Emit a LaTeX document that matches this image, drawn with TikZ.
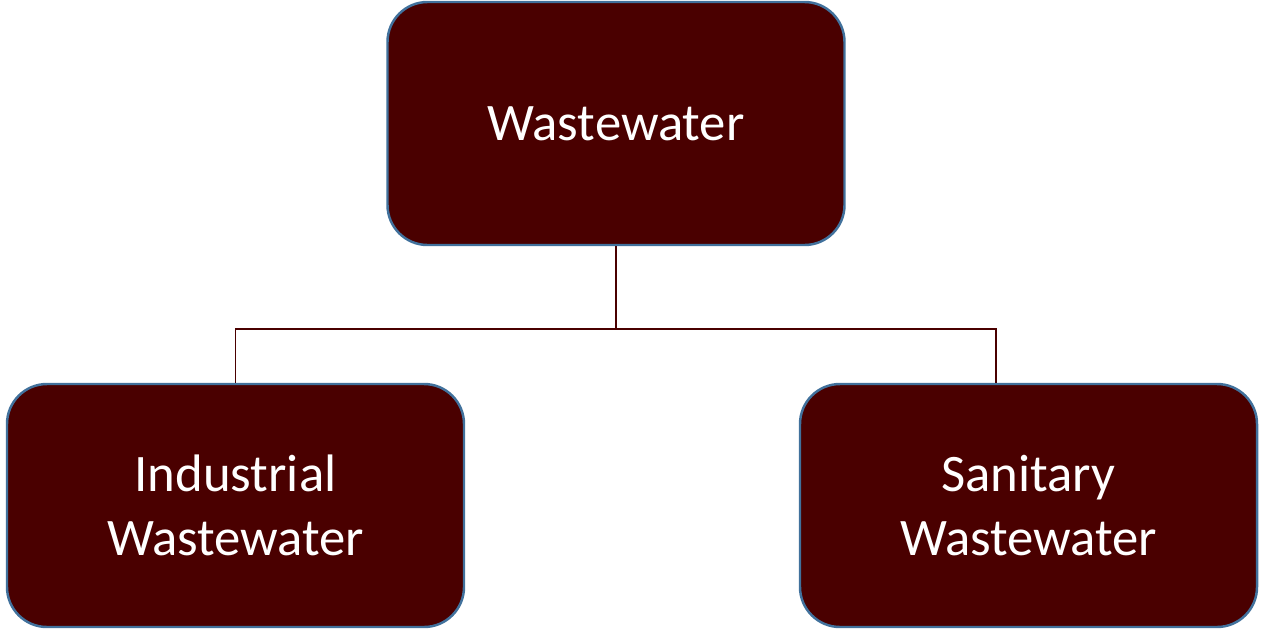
\documentclass[tikz,border=0pt]{standalone}
\usepackage{fontspec}
\setmainfont{Carlito}
\definecolor{wwmaroon}{RGB}{74, 0, 0}
\definecolor{wwborder}{RGB}{65, 113, 156}
\usetikzlibrary{positioning}

\begin{document}
\begin{tikzpicture}[
  box/.style={rectangle, draw=wwborder, line width=0.7pt, fill=wwmaroon, rounded corners=0.4cm, minimum height=2.43cm, minimum width=4.57cm, align=center, text=white, font=\fontsize{15}{18}\selectfont},
  link/.style={wwmaroon, line width=0.5pt}
]
  \useasboundingbox (0,0) rectangle (12.62,-6.29);
  \node[box] (waste) at (6.16,-1.235) {Wastewater};
  \node[box] (indus) at (2.355,-5.055) {Industrial\\Wastewater};
  \node[box] (sanit) at (10.285,-5.055) {Sanitary\\Wastewater};
  \coordinate (split) at (6.16,-3.29);
  % tree connectors
  \draw[link] (waste.south) -- (split);
  \draw[link] (split) -| (indus.north);
  \draw[link] (split) -| ([xshift=-0.325cm]sanit.north);
\end{tikzpicture}
\end{document}
